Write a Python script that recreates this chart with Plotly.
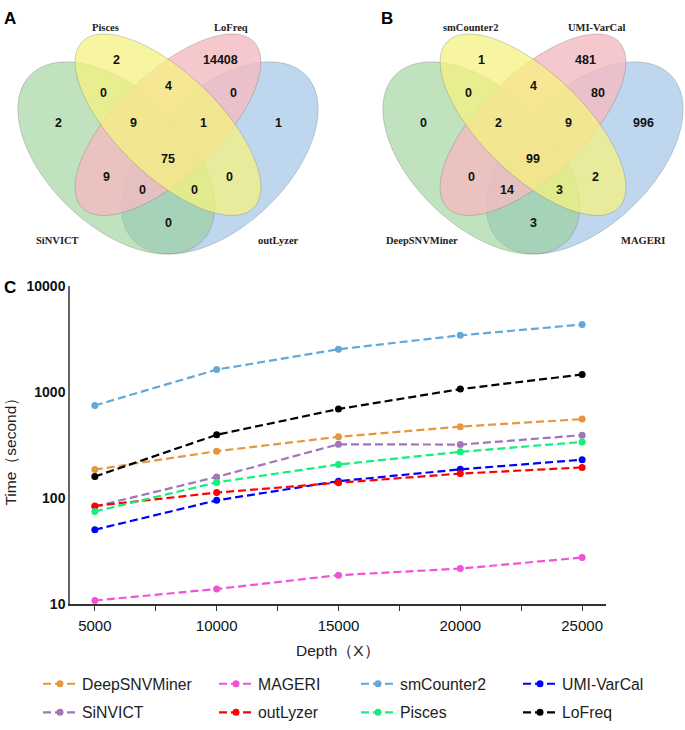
import numpy as np
import plotly.graph_objects as go

W, H = 685, 730

# ---------------- data ----------------
depth = [5000, 10000, 15000, 20000, 25000]
depth_labels = ["5000", "10000", "15000", "20000", "25000"]
tools = ["DeepSNVMiner", "MAGERI", "smCounter2", "UMI-VarCal",
         "SiNVICT", "outLyzer", "Pisces", "LoFreq"]
deepsnvminer = [187, 279, 381, 475, 560]
mageri = [10.9, 14.0, 18.9, 21.8, 27.7]
smcounter2 = [753, 1641, 2552, 3452, 4365]
umivarcal = [50.7, 95.9, 145.6, 188, 232]
sinvict = [83.8, 159.5, 324, 322, 395]
outlyzer = [85, 113.5, 140.6, 171.5, 196]
pisces = [75.3, 141.6, 209, 275, 341]
lofreq = [161, 398, 697, 1074, 1476]
ytick_vals = [10, 100, 1000, 10000]

# Venn sets (A, B, C, D) and region counts in order:
# A, B, C, D, AB, BC, CD, ABC, BCD, ABCD, AC, BD, ACD, ABD, AD
venn_a_sets = ["SiNVICT", "Pisces", "LoFreq", "outLyzer"]
venn_a_counts = [2, 2, 14408, 1, 0, 4, 0, 9, 1, 75, 9, 0, 0, 0, 0]
venn_b_sets = ["DeepSNVMiner", "smCounter2", "UMI-VarCal", "MAGERI"]
venn_b_counts = [0, 1, 481, 996, 0, 4, 80, 2, 9, 99, 0, 2, 14, 3, 3]

# ---------------- styles / layout ----------------
colors = {"DeepSNVMiner": "#E8963E", "MAGERI": "#F352D6", "smCounter2": "#62A8D9",
          "UMI-VarCal": "#0000FF", "SiNVICT": "#A274B9", "outLyzer": "#FF0000",
          "Pisces": "#14EE7E", "LoFreq": "#000000"}
series = {"DeepSNVMiner": deepsnvminer, "MAGERI": mageri, "smCounter2": smcounter2,
          "UMI-VarCal": umivarcal, "SiNVICT": sinvict, "outLyzer": outlyzer,
          "Pisces": pisces, "LoFreq": lofreq}
legend_of = {"DeepSNVMiner": "legend", "SiNVICT": "legend",
             "MAGERI": "legend2", "outLyzer": "legend2",
             "smCounter2": "legend3", "Pisces": "legend3",
             "UMI-VarCal": "legend4", "LoFreq": "legend4"}
legend_x_px = [38, 214, 356, 518]
legend_top_px = 675

def px(x, y):
    return x / W, 1 - y / H

fig = go.Figure()
for name in tools:
    fig.add_trace(go.Scatter(
        x=depth, y=series[name], name=name, mode="lines+markers",
        line=dict(color=colors[name], width=2.2, dash="8px,4px"),
        marker=dict(color=colors[name], size=7),
        legend=legend_of[name], legendgroup=name))

# Venn geometry (pixels, relative to panel centre)
S = 345.0
ell_geo = [  # (dx, dy, a, b, direction)
    (-0.15 * S, 153.5, 0.35 * S, 0.20 * S, +1),   # A green
    (0.0, 119.5, 0.35 * S, 0.15 * S, +1),         # B yellow
    (0.0, 119.5, 0.35 * S, 0.15 * S, -1),         # C pink
    (0.15 * S, 153.5, 0.35 * S, 0.20 * S, -1),    # D blue
]
ell_fill = ["rgba(150,207,147,0.60)", "rgba(246,242,128,0.75)",
            "rgba(243,188,194,0.82)", "rgba(148,188,226,0.60)"]
draw_order = [3, 0, 2, 1]
region_dx = [-110, -52, 52, 110, -65, 0, 65, -35, 35, 0, -62, 62, -26, 26, 0]
region_dy = [118, 53, 53, 118, 87, 80, 87, 118, 118, 155, 173, 173, 186, 186, 220]
name_dx = [-111, -63, 63, 110]
name_dy = [238, 20, 20, 238]
panel_cx = [168, 533]

shapes = []
annotations = []
t = np.linspace(0, 2 * np.pi, 180)
for cx, counts, sets in [(panel_cx[0], venn_a_counts, venn_a_sets),
                         (panel_cx[1], venn_b_counts, venn_b_sets)]:
    for i in draw_order:
        dx, dy, a, b, d = ell_geo[i]
        ux, uy = 1 / np.sqrt(2), d / np.sqrt(2)
        vx, vy = -uy, ux
        X = cx + dx + a * np.cos(t) * ux + b * np.sin(t) * vx
        Y = dy + a * np.cos(t) * uy + b * np.sin(t) * vy
        path = "M " + " L ".join(f"{px(xx, yy)[0]:.5f},{px(xx, yy)[1]:.5f}"
                                 for xx, yy in zip(X, Y)) + " Z"
        shapes.append(dict(type="path", xref="paper", yref="paper", path=path,
                           fillcolor=ell_fill[i],
                           line=dict(color="rgba(110,110,110,0.40)", width=0.8)))
    for val, rx, ry in zip(counts, region_dx, region_dy):
        x, y = px(cx + rx, ry)
        annotations.append(dict(x=x, y=y, xref="paper", yref="paper", text=str(val),
                                showarrow=False, xanchor="center", yanchor="middle",
                                font=dict(family="Liberation Sans, Arial", size=12.5,
                                          color="#111", weight="bold")))
    for nm, nx, ny in zip(sets, name_dx, name_dy):
        x, y = px(cx + nx, ny)
        annotations.append(dict(x=x, y=y, xref="paper", yref="paper", text=nm,
                                showarrow=False, xanchor="center", yanchor="middle",
                                font=dict(family="Liberation Serif, Times New Roman",
                                          size=10.5, color="#222", weight="bold")))

for letter, lx, ly in [("A", 10, 11), ("B", 387, 11), ("C", 10, 286)]:
    x, y = px(lx, ly)
    annotations.append(dict(x=x, y=y, xref="paper", yref="paper", text=letter,
                            showarrow=False, xanchor="center", yanchor="middle",
                            font=dict(family="Liberation Sans, Arial", size=17,
                                      color="#000", weight="bold")))

# axis titles
x, y = px(338, 658)
annotations.append(dict(x=x, y=y, xref="paper", yref="paper", text="Depth（X）",
                        showarrow=False, xanchor="center", yanchor="middle",
                        font=dict(family="Liberation Sans, Arial", size=15.5, color="#222")))
x, y = px(11, 450)
annotations.append(dict(x=x, y=y, xref="paper", yref="paper", text="Time（second）",
                        showarrow=False, xanchor="center", yanchor="middle", textangle=-90,
                        font=dict(family="Liberation Sans, Arial", size=15.5, color="#222")))

legend_common = dict(xanchor="left", yanchor="top", orientation="v",
                     bgcolor="rgba(0,0,0,0)", tracegroupgap=5, itemwidth=34,
                     font=dict(family="Liberation Sans, Arial", size=15.8, color="#222"))
legends = {}
for k, lxp in zip(["legend", "legend2", "legend3", "legend4"], legend_x_px):
    lx, ly = px(lxp, legend_top_px)
    legends[k] = dict(x=lx, y=ly, **legend_common)

fig.update_layout(
    width=W, height=H, margin=dict(l=0, r=0, t=0, b=0),
    paper_bgcolor="white", plot_bgcolor="rgba(0,0,0,0)",
    shapes=shapes, annotations=annotations, showlegend=True,
    xaxis=dict(domain=[70 / W, 606 / W], range=[3980, 25980],
               showline=True, linecolor="#333", linewidth=1.5, mirror=False,
               showgrid=False, zeroline=False, ticks="outside", ticklen=5,
               tickcolor="#333", tickwidth=1.2, tickvals=depth, ticktext=depth_labels,
               ticklabelstandoff=2,
               minor=dict(dtick=2500, ticks="outside", ticklen=5, tickcolor="#333",
                          tickwidth=1.2, showgrid=False),
               tickfont=dict(family="Liberation Sans, Arial", size=15, color="#111")),
    yaxis=dict(domain=[(H - 610.7) / H, (H - 285) / H], type="log", range=[1, 4],
               showline=True, linecolor="#666", linewidth=1.5, showgrid=False,
               zeroline=False, ticks="", tickvals=ytick_vals,
               ticktext=[str(v) for v in ytick_vals],
               tickfont=dict(family="Liberation Sans, Arial", size=14, color="#111",
                             weight="bold")),
    **legends,
)

fig.write_html("out.html", config={"displayModeBar": False},
               post_script="document.body.style.margin='0px';document.body.style.overflow='hidden';")
